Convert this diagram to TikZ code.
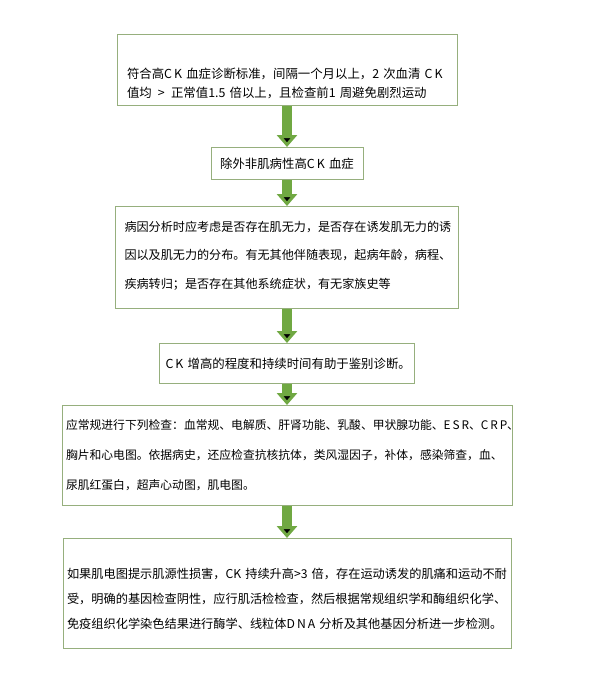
\documentclass[tikz,border=0pt]{standalone}
\usepackage{fontspec}
\newfontfamily\cjk{Noto Sans CJK SC}
\usetikzlibrary{positioning}
\usetikzlibrary{arrows.meta}
\definecolor{boxgreen}{RGB}{150,175,125}
\definecolor{arrowgreen}{RGB}{112,168,66}

\begin{document}
\begin{tikzpicture}[
        x=1pt, y=1pt,
        >={Triangle[width=20pt,length=12pt]},
        boxnode/.style={rectangle, draw=boxgreen, line width=1pt, align=left, inner ysep=0pt, font=\cjk\fontsize{12.4}{19}\selectfont},
        flowline/.style={->, draw=arrowgreen, line width=10pt}
    ]

        \useasboundingbox (0,0) rectangle (592,-685);

        \node [boxnode, text width=320pt, inner xsep=10pt, minimum height=71pt] (Step1) at (287,-70)
            {\rule{0pt}{37pt}符合高C\,K~血症诊断标准，间隔一个月以上，2~次血清~C\,K\\值均~\,>\,~正常值1.5~倍以上，且检查前1~周避免剧烈运动};
        \node [boxnode, text width=140pt, inner xsep=6pt, minimum height=32pt, align=center] (Step2) [below=41pt of Step1]
            {除外非肌病性高C\,K~血症};
        \node [boxnode, text width=325pt, inner xsep=9pt, minimum height=102pt, font=\cjk\fontsize{12.1}{28.5}\selectfont] (Step3) [below=26pt of Step2]
            {病因分析时应考虑是否存在肌无力，是否存在诱发肌无力的诱\\因以及肌无力的分布。有无其他伴随表现，起病年龄，病程、\\疾病转归；是否存在其他系统症状，有无家族史等\rule[-6pt]{0pt}{6pt}};
        \node [boxnode, text width=243pt, inner xsep=6pt, minimum height=40pt, align=center] (Step4) [below=34pt of Step3]
            {C\,K~增高的程度和持续时间有助于鉴别诊断。};
        \node [boxnode, text width=442pt, inner xsep=4pt, minimum height=100pt, font=\cjk\fontsize{11.8}{30}\selectfont] (Step5) [below=21pt of Step4]
            {应常规进行下列检查：血常规、电解质、肝肾功能、乳酸、甲状腺功能、E\,S\,R、C\,R\,P、\\胸片和心电图。依据病史，还应检查抗核抗体，类风湿因子，补体，感染筛查，血、\\尿肌红蛋白，超声心动图，肌电图。};
        \node [boxnode, text width=440pt, inner xsep=4pt, minimum height=110pt, font=\cjk\fontsize{12.2}{25}\selectfont] (Step6) [below=32pt of Step5]
            {\rule{0pt}{20pt}如果肌电图提示肌源性损害，CK~持续升高>3~倍，存在运动诱发的肌痛和运动不耐\\受，明确的基因检查阴性，应行肌活检检查，然后根据常规组织学和酶组织化学、\\免疫组织化学染色结果进行酶学、线粒体D\,N\,A~分析及其他基因分析进一步检测。};

        \path[flowline] (Step1) edge (Step2);
        \path[flowline] (Step2) edge (Step3);
        \path[flowline] (Step3) edge (Step4);
        \path[flowline] (Step4) edge (Step5);
        \path[flowline] (Step5) edge (Step6);

\end{tikzpicture}
\end{document}
